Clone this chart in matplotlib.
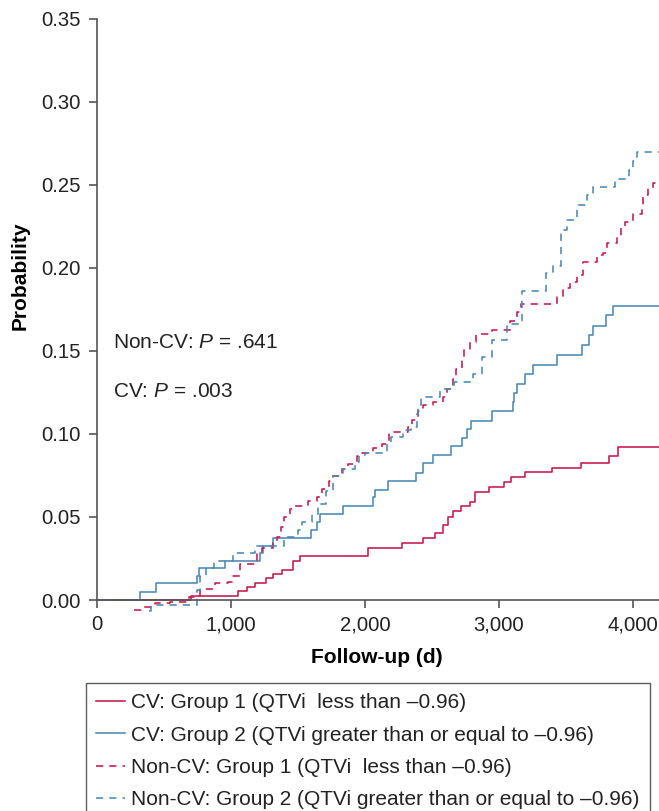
import matplotlib
matplotlib.use("Agg")
import matplotlib.pyplot as plt

plt.rcParams["font.family"] = ["Liberation Sans", "DejaVu Sans"]
plt.rcParams["mathtext.fontset"] = "custom"
plt.rcParams["mathtext.it"] = "Liberation Sans:italic"
plt.rcParams["mathtext.rm"] = "Liberation Sans"

# ── data ──────────────────────────────────────────────────────────────────────
X_END = 4194

cv_g1_x = [0, 700, 1055, 1117, 1179, 1259, 1316, 1378, 1465, 1515, 2025, 2274,
           2435, 2522, 2585, 2622, 2659, 2715, 2783, 2824, 2927, 3041, 3087,
           3195, 3398, 3610, 3821, 3889, X_END]
cv_g1_y = [0, 0.0025, 0.0056, 0.0080, 0.0104, 0.0131, 0.0157, 0.0180, 0.0237,
           0.0265, 0.0311, 0.0341, 0.0372, 0.0402, 0.0452, 0.0502, 0.0538,
           0.0565, 0.0591, 0.0648, 0.0682, 0.0713, 0.0739, 0.0769, 0.0798,
           0.0828, 0.0865, 0.0920, 0.0920]

cv_g2_x = [0, 321, 440, 744, 761, 955, 1216, 1241, 1316, 1597, 1639, 1664,
           1838, 2057, 2072, 2169, 2378, 2430, 2510, 2640, 2721, 2759, 2791,
           2945, 3102, 3112, 3137, 3197, 3251, 3435, 3617, 3674, 3699, 3796,
           3853, X_END]
cv_g2_y = [0, 0.0050, 0.0100, 0.0145, 0.0190, 0.0237, 0.0281, 0.0325, 0.0375,
           0.0422, 0.0472, 0.0516, 0.0566, 0.0619, 0.0663, 0.0719, 0.0767,
           0.0823, 0.0876, 0.0928, 0.0978, 0.1030, 0.1080, 0.1136, 0.1195,
           0.1249, 0.1301, 0.1360, 0.1414, 0.1478, 0.1534, 0.1596, 0.1653,
           0.1717, 0.1773, 0.1773]

ncv_g1_x = [279, 330, 433, 545, 689, 769, 881, 980, 1017, 1067, 1192, 1229,
            1316, 1340, 1371, 1396, 1440, 1478, 1577, 1639, 1682, 1731, 1759,
            1826, 1876, 1938, 1975, 2062, 2124, 2179, 2323, 2348, 2398, 2436,
            2510, 2585, 2610, 2659, 2679, 2721, 2741, 2784, 2828, 2945, 3082,
            3137, 3162, 3435, 3480, 3530, 3580, 3624, 3729, 3779, 3808, 3878,
            3908, 3940, 4002, 4065, 4077, 4114, 4152, X_END]
ncv_g1_y = [-0.0060, -0.0040, -0.0020, -0.0010, 0.0016, 0.0064, 0.0100,
            0.0110, 0.0145, 0.0217, 0.0281, 0.0311, 0.0341, 0.0380, 0.0442,
            0.0502, 0.0546, 0.0566, 0.0598, 0.0622, 0.0669, 0.0717, 0.0749,
            0.0787, 0.0821, 0.0869, 0.0887, 0.0914, 0.0938, 0.1010, 0.1040,
            0.1084, 0.1137, 0.1175, 0.1195, 0.1225, 0.1269, 0.1330, 0.1392,
            0.1452, 0.1506, 0.1556, 0.1602, 0.1627, 0.1683, 0.1737, 0.1783,
            0.1827, 0.1877, 0.1918, 0.1958, 0.2035, 0.2078, 0.2092, 0.2149,
            0.2189, 0.2245, 0.2279, 0.2327, 0.2369, 0.2440, 0.2480, 0.2510,
            0.2510]

ncv_g2_x = [390, 400, 749, 765, 813, 873, 1017, 1179, 1396, 1500, 1528, 1604,
            1650, 1709, 1764, 1838, 1923, 1958, 2000, 2162, 2192, 2281, 2340,
            2386, 2395, 2420, 2560, 2667, 2804, 2871, 2948, 3057, 3174, 3348,
            3400, 3460, 3505, 3585, 3659, 3699, 3866, 3972, 3997, 4027, X_END]
ncv_g2_y = [-0.0064, -0.0030, 0.0060, 0.0145, 0.0190, 0.0237, 0.0281, 0.0325,
            0.0378, 0.0420, 0.0468, 0.0516, 0.0580, 0.0659, 0.0747, 0.0789,
            0.0830, 0.0873, 0.0887, 0.0938, 0.0984, 0.1024, 0.1044, 0.1120,
            0.1175, 0.1221, 0.1269, 0.1315, 0.1361, 0.1466, 0.1566, 0.1662,
            0.1861, 0.1968, 0.2014, 0.2229, 0.2289, 0.2379, 0.2440, 0.2490,
            0.2534, 0.2590, 0.2647, 0.2697, 0.2697]

labels = ["CV: Group 1 (QTVi  less than \u20130.96)",
          "CV: Group 2 (QTVi greater than or equal to \u20130.96)",
          "Non-CV: Group 1 (QTVi  less than \u20130.96)",
          "Non-CV: Group 2 (QTVi greater than or equal to \u20130.96)"]

x_ticks = [0, 1000, 2000, 3000, 4000]
x_ticklabels = ["0", "1,000", "2,000", "3,000", "4,000"]
y_ticks = [0.00, 0.05, 0.10, 0.15, 0.20, 0.25, 0.30, 0.35]

RED = "#c8174e"
BLUE = "#4b87b3"
DASH = (0, (4.5, 3.8))
FS = 14.6
LFS = 15

# ── figure ────────────────────────────────────────────────────────────────────
fig = plt.figure(figsize=(6.59, 8.11), dpi=100)
ax = fig.add_axes([0.1472, 0.2397, 0.8528, 0.7369])

kw = dict(where="post", lw=1.15)
h1, = ax.step(cv_g1_x, cv_g1_y, color=RED, **kw)
h2, = ax.step(cv_g2_x, cv_g2_y, color=BLUE, **kw)
h3, = ax.step(ncv_g1_x, ncv_g1_y, color=RED, ls=DASH, **kw)
h4, = ax.step(ncv_g2_x, ncv_g2_y, color=BLUE, ls=DASH, **kw)

ax.set_xlim(0, X_END)
ax.set_ylim(-0.01, 0.35)
ax.spines["top"].set_visible(False)
ax.spines["right"].set_visible(False)
ax.spines["bottom"].set_position(("data", 0))
ax.spines["left"].set_bounds(0, 0.35)
for s in ("left", "bottom"):
    ax.spines[s].set_color("#555555")
    ax.spines[s].set_linewidth(1.2)

ax.set_xticks(x_ticks)
ax.set_xticklabels(x_ticklabels)
ax.set_yticks(y_ticks)
ax.set_yticklabels([f"{v:.2f}" for v in y_ticks])
ax.tick_params(axis="both", direction="out", length=6, width=1.2,
               color="#555555", labelsize=FS, labelcolor="#222222")
ax.tick_params(axis="x", pad=5)
ax.tick_params(axis="y", pad=6)

ax.set_xlabel("Follow-up (d)", fontsize=LFS, fontweight="bold", va="center")
ax.xaxis.set_label_coords(0.498, -0.068)
ax.set_ylabel("Probability", fontsize=LFS, fontweight="bold", va="center")
ax.yaxis.set_label_coords(-0.137, 0.57)

ax.text(119, 0.1554, "Non-CV: $P$ = .641", fontsize=LFS, va="center",
        color="#222222")
ax.text(119, 0.1253, "CV: $P$ = .003", fontsize=LFS, va="center",
        color="#222222")

leg = fig.legend([h1, h2, h3, h4], labels, loc="upper left",
                 bbox_to_anchor=(85.5 / 659, 1 - 683 / 811),
                 fontsize=LFS, frameon=True, fancybox=False,
                 handlelength=1.4, handletextpad=0.3, labelspacing=0.64,
                 borderpad=0.5, borderaxespad=0)
leg.get_frame().set_edgecolor("#333333")
leg.get_frame().set_linewidth(1.0)
for t in leg.get_texts():
    t.set_color("#222222")

fig.savefig("out.png", dpi=100)
